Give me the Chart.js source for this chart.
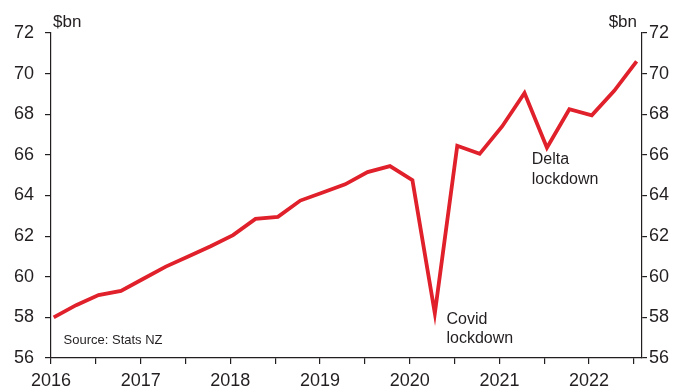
<!DOCTYPE html>
<html>
<head>
<meta charset="utf-8">
<script src="https://cdn.jsdelivr.net/npm/chart.js@4/dist/chart.umd.min.js"></script>
<style>
  html, body { margin: 0; padding: 0; background: #fff; }
  #wrap { width: 680px; height: 388px; }
</style>
</head>
<body>
<div id="wrap"><canvas id="chart" width="680" height="388"></canvas></div>
<script>
// quarterly, 2016 Q1 .. 2022 Q3, $bn
const quarters = [
  '2016Q1','2016Q2','2016Q3','2016Q4',
  '2017Q1','2017Q2','2017Q3','2017Q4',
  '2018Q1','2018Q2','2018Q3','2018Q4',
  '2019Q1','2019Q2','2019Q3','2019Q4',
  '2020Q1','2020Q2','2020Q3','2020Q4',
  '2021Q1','2021Q2','2021Q3','2021Q4',
  '2022Q1','2022Q2','2022Q3'
];
const values = [
  58.0, 58.6, 59.1, 59.3,
  59.9, 60.5, 61.0, 61.5,
  62.05, 62.85, 62.95, 63.75,
  64.15, 64.55, 65.15, 65.45,
  64.75, 58.2, 66.45, 66.05,
  67.4, 69.05, 66.35, 68.25,
  67.95, 69.15, 70.6
];
const yearTicks = [2016, 2017, 2018, 2019, 2020, 2021, 2022];
const yTicks = [56, 58, 60, 62, 64, 66, 68, 70, 72];

const ink = '#231f20';
const font = 'Liberation Sans, Arial, sans-serif';

// quarter label -> decimal year (points sit a little after the quarter start)
function toYear(q) {
  return parseInt(q.slice(0, 4)) + (parseInt(q.slice(5)) - 1) / 4 + 0.03;
}
const points = quarters.map((q, i) => ({ x: toYear(q), y: values[i] }));

const notes = {
  id: 'notes',
  afterDraw(chart) {
    const ctx = chart.ctx;
    const x = chart.scales.x, y = chart.scales.y;
    ctx.save();
    ctx.fillStyle = ink;
    ctx.textBaseline = 'middle';
    ctx.font = '16px ' + font;
    ctx.textAlign = 'left';
    ctx.fillText('Covid', x.getPixelForValue(2020.41), y.getPixelForValue(57.9));
    ctx.fillText('lockdown', x.getPixelForValue(2020.41), y.getPixelForValue(56.95));
    ctx.fillText('Delta', x.getPixelForValue(2021.36), y.getPixelForValue(65.75));
    ctx.fillText('lockdown', x.getPixelForValue(2021.36), y.getPixelForValue(64.8));
    ctx.font = '13px ' + font;
    ctx.fillText('Source: Stats NZ', x.getPixelForValue(2016.14), y.getPixelForValue(56.85));
    ctx.font = '17px ' + font;
    ctx.fillText('$bn', chart.chartArea.left + 2, 22);
    ctx.textAlign = 'right';
    ctx.fillText('$bn', chart.chartArea.right - 5, 22);
    ctx.restore();
  }
};

const yScale = (pos) => ({
  type: 'linear',
  position: pos,
  min: 56,
  max: 72,
  afterBuildTicks: (s) => { s.ticks = yTicks.map(v => ({ value: v })); },
  afterFit: (s) => { s.width = pos === 'left' ? 51 : 38; },
  border: { display: true, color: ink, width: 1.2 },
  grid: { drawOnChartArea: false, drawTicks: true, tickLength: pos === 'left' ? 6 : 5, color: ink, lineWidth: 1.2 },
  ticks: { color: ink, padding: pos === 'left' ? 11 : 2, font: { family: font, size: 18 } }
});

new Chart(document.getElementById('chart'), {
  type: 'line',
  data: {
    datasets: [{
      data: points,
      borderColor: '#e0202a',
      borderWidth: 3.8,
      pointRadius: 0,
      tension: 0,
      borderJoinStyle: 'miter'
    }]
  },
  options: {
    responsive: false,
    animation: false,
    layout: { padding: { top: 33, left: 0, right: 0, bottom: 0 } },
    plugins: { legend: { display: false }, tooltip: { enabled: false } },
    scales: {
      x: {
        type: 'linear',
        min: 2016,
        max: 2022.59,
        afterBuildTicks: (s) => {
          const t = [];
          yearTicks.forEach(yr => { t.push({ value: yr }); t.push({ value: yr + 0.5 }); });
          s.ticks = t;
        },
        afterFit: (s) => { s.height = 30; },
        border: { display: true, color: ink, width: 1.2 },
        grid: { drawOnChartArea: false, drawTicks: true, tickLength: 6, color: ink, lineWidth: 1.2 },
        ticks: {
          color: ink,
          padding: 6,
          maxRotation: 0,
          autoSkip: false,
          font: { family: font, size: 18 },
          callback: (v) => Number.isInteger(v) ? String(v) : ''
        }
      },
      y: yScale('left'),
      y2: yScale('right')
    }
  },
  plugins: [notes]
});
</script>
</body>
</html>
